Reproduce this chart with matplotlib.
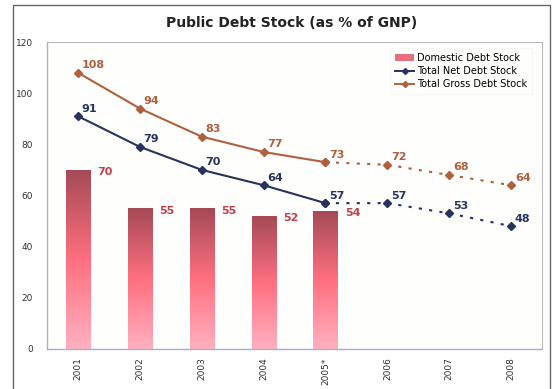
import matplotlib.pyplot as plt
import numpy as np
from matplotlib.colors import LinearSegmentedColormap
from matplotlib.lines import Line2D
from matplotlib.patches import Patch, Rectangle

years = ['2001', '2002', '2003', '2004', '2005*', '2006', '2007', '2008']
domestic = [70, 55, 55, 52, 54]
net_debt = [91, 79, 70, 64, 57, 57, 53, 48]
gross_debt = [108, 94, 83, 77, 73, 72, 68, 64]
actual_n = 5  # 2001-2005 are actuals, rest are projections

navy = '#27325e'
brown = '#b0603e'
bar_lbl = '#c0404a'

fig = plt.figure(figsize=(5.6, 3.89), dpi=100)
ax = fig.add_axes([0.084, 0.103, 0.884, 0.789])
ax.set_facecolor('#fefefc')

# outer chart frame
fig.patches.append(Rectangle((13 / 560, -0.01), 537 / 560, 1 - 5 / 389 + 0.01,
                             transform=fig.transFigure, fill=False,
                             edgecolor='#666666', linewidth=1.0))

x = np.arange(len(years))
bw = 0.39
bars = ax.bar(x[:actual_n], domestic, width=bw, color='none', zorder=2)

# gradient fill for the bars: dark red at top, light pink at bottom
cmap = LinearSegmentedColormap.from_list('bar', ['#ffb0c0', '#ff6f80', '#a44a56'])
grad = np.linspace(0, 1, 256).reshape(-1, 1)
for b in bars:
    x0, y0 = b.get_x(), b.get_y()
    w, h = b.get_width(), b.get_height()
    im = ax.imshow(grad, extent=[x0, x0 + w, y0, y0 + h], origin='lower',
                   cmap=cmap, aspect='auto', zorder=2)
    im.set_clip_path(b)

for i, v in enumerate(domestic):
    ax.text(x[i] + bw / 2 + 0.12, v - 1, str(v), color=bar_lbl, fontsize=8,
            fontweight='bold', ha='left', va='center')

# lines: solid for actuals, dotted for projections
for vals, col in [(net_debt, navy), (gross_debt, brown)]:
    ax.plot(x[:actual_n], vals[:actual_n], color=col, linewidth=1.5,
            marker='D', markersize=4, zorder=3)
    ax.plot(x[actual_n - 1:], vals[actual_n - 1:], color=col, linewidth=1.5,
            linestyle=(0, (1.5, 3.5)), marker='D', markersize=4, zorder=3)
    for i, v in enumerate(vals):
        ax.text(x[i] + 0.06, v + 1.0, str(v), color=col, fontsize=8,
                fontweight='bold', ha='left', va='bottom')

ax.set_xlim(-0.5, len(years) - 0.5)
ax.set_ylim(0, 120)
ax.set_yticks(range(0, 121, 20))
ax.set_xticks(x)
ax.set_xticklabels(years, rotation=90)
ax.tick_params(axis='both', length=0, labelsize=6.5, colors='#333333')
ax.tick_params(axis='y', pad=10)
ax.tick_params(axis='x', pad=6)

for side in ['top', 'right']:
    ax.spines[side].set_color('#bbbbbb')
    ax.spines[side].set_linestyle((0, (1, 1)))
    ax.spines[side].set_linewidth(0.8)
for side in ['left', 'bottom']:
    ax.spines[side].set_color('#a8b0c8')
    ax.spines[side].set_linewidth(1.0)

fig.text(0.52, 0.942, 'Public Debt Stock (as % of GNP)', ha='center', va='center',
         fontsize=10, fontweight='bold', color='#222222')

handles = [Patch(facecolor='#e8707e', edgecolor='none'),
           Line2D([], [], color=navy, marker='D', markersize=3, linewidth=1.4),
           Line2D([], [], color=brown, marker='D', markersize=3, linewidth=1.4)]
ax.legend(handles, ['Domestic Debt Stock', 'Total Net Debt Stock', 'Total Gross Debt Stock'],
          loc='upper right', bbox_to_anchor=(0.99, 0.995), fontsize=7,
          frameon=True, fancybox=False, edgecolor='#f4f4f4', facecolor='#fefefc',
          handlelength=2.0, handletextpad=0.3, labelspacing=0.3, borderpad=0.5)

fig.savefig('out.png', dpi=100)
